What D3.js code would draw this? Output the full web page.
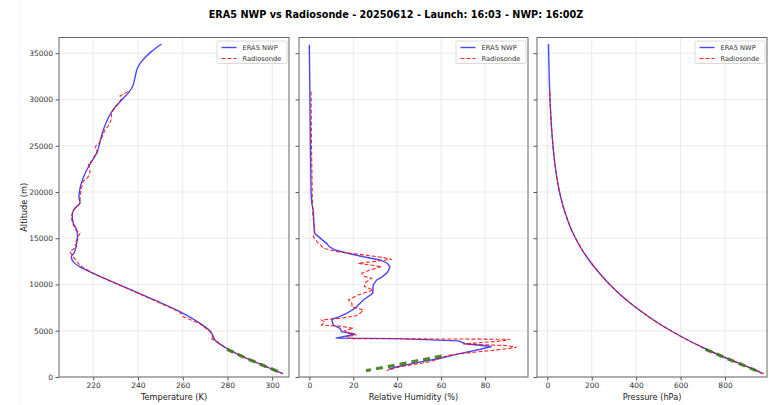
<!DOCTYPE html>
<html>
<head>
<meta charset="utf-8">
<script src="https://cdn.jsdelivr.net/npm/d3@7"></script>
<style>
  body { margin: 0; background: #fff; }
  text { font-family: "DejaVu Sans", sans-serif; }
  .tick text { fill: #333; font-size: 7.5px; }
  .tick line { stroke: #555; }
  .grid line { stroke: #e4e4e4; stroke-width: 0.8; }
</style>
</head>
<body>
<div id="chart"></div>
<script>
// ---- data ----
var titleText = "ERA5 NWP vs Radiosonde - 20250612 - Launch: 16:03 - NWP: 16:00Z";
var altTicks = [0, 5000, 10000, 15000, 20000, 25000, 30000, 35000];
var tempTicks = [220, 240, 260, 280, 300];
var rhTicks = [0, 20, 40, 60, 80];
var presTicks = [0, 200, 400, 600, 800];

// ERA5 temperature
var eraTempAlt = [36000, 35200, 34200, 33400, 32300, 31400, 30800, 29950, 28900, 28000, 26700, 25800, 24200, 23300, 22700, 21500, 20400, 19500, 18800, 18250, 17500, 16600, 15900, 15200, 14100, 13400, 13000, 12450, 11900, 11200, 9050, 7060, 5800, 4900, 4500, 4000, 3100, 2020, 1100, 400];
var eraTemp = [250.5, 246.1, 241.9, 239.8, 238.6, 237.6, 236.0, 232.7, 228.9, 226.7, 224.5, 223.4, 221.5, 219.3, 217.8, 215.5, 214.1, 213.6, 214.1, 211.8, 210.6, 211.1, 212.6, 213.0, 212.3, 211.4, 210.2, 211.1, 214.1, 220.0, 240.5, 258.7, 267.7, 272.5, 273.4, 274.4, 279.6, 288.6, 297.5, 304.6];

// Radiosonde temperature
var sondeTempAlt = [30850, 30600, 30400, 30000, 29200, 28500, 28000, 27500, 27000, 26700, 26000, 25300, 25050, 24700, 24350, 24000, 23300, 23050, 22600, 22200, 21650, 21120, 20500, 19500, 18780, 18500, 18060, 17600, 17160, 16430, 15900, 15540, 15200, 14810, 14450, 14090, 13550, 13000, 12500, 11900, 11200, 9050, 7060, 6520, 5800, 4900, 4200, 4150, 4000, 3100, 2020, 1100, 320];
var sondeTemp = [235.5, 233.5, 232.0, 232.5, 230.0, 228.0, 228.3, 227.5, 226.3, 225.2, 224.0, 222.8, 221.3, 220.8, 222.0, 221.0, 219.3, 217.8, 218.3, 218.6, 217.8, 215.5, 214.8, 214.1, 214.1, 213.0, 211.1, 210.5, 210.3, 211.1, 212.2, 214.1, 213.3, 212.6, 211.8, 212.6, 209.6, 211.1, 212.5, 215.0, 220.0, 240.1, 258.5, 260.2, 267.5, 272.3, 273.6, 272.5, 274.0, 279.6, 288.6, 297.5, 304.8];

// ERA5 relative humidity
var eraRhAlt = [35900, 30000, 25000, 20000, 18800, 18000, 16500, 15900, 15500, 15200, 14800, 14450, 14100, 13730, 13400, 13000, 12650, 12300, 11930, 11500, 11210, 10800, 10490, 9950, 9050, 8330, 7430, 6890, 6500, 6240, 5620, 5260, 4900, 4650, 4430, 4200, 4150, 3900, 3600, 3300, 3000, 2500, 2000, 1500, 1050, 830];
var eraRh = [0.0, 0.3, 0.5, 0.8, 1.1, 1.8, 2.1, 2.2, 2.5, 4.1, 6.0, 7.9, 9.0, 11.7, 17, 24.6, 32.2, 35.5, 36.7, 36.0, 35.2, 33, 30.7, 29.1, 28.9, 24.6, 20.8, 17.0, 13.5, 10.2, 10.9, 14.0, 14.7, 20.8, 17.0, 12, 40, 68, 71, 83, 78, 68, 59, 48, 39, 36];

// Radiosonde relative humidity
var sondeRhAlt = [30850, 28000, 25000, 22000, 19000, 17500, 16000, 15600, 15170, 14600, 14200, 13910, 13550, 13200, 12900, 12720, 12500, 12290, 12100, 11930, 11600, 11210, 10900, 10670, 10200, 9800, 9410, 8870, 8330, 7900, 7600, 7240, 6890, 6600, 6350, 6160, 5900, 5620, 5500, 5260, 5000, 4720, 4540, 4360, 4150, 4080, 3900, 3570, 3400, 3210, 3000, 2700, 2380, 1650, 1110, 680];
var sondeRh = [0.8, 0.9, 1.0, 1.2, 1.4, 1.6, 2.5, 2.3, 1.8, 3.5, 5.5, 6.4, 12.5, 25, 34, 37.5, 30, 22.3, 28, 33, 28, 23.9, 25, 28.4, 25.5, 25.0, 29.1, 22.3, 17.8, 19.5, 19.3, 24.6, 23.1, 21, 14, 5.6, 7, 5.6, 14, 20, 16, 17.8, 21.6, 17, 20, 91.4, 88, 70, 90, 94.4, 88, 76, 64, 55, 41.3, 35.2];

// ERA5 pressure
var eraPresAlt = [36000, 34000, 32000, 30000, 28000, 26000, 24000, 22000, 20000, 19000, 18000, 17000, 16000, 15000, 14000, 13000, 12000, 11000, 10000, 9000, 8000, 7000, 6000, 5000, 4000, 3000, 2000, 1000, 400];
var eraPres = [5.3, 7, 9.2, 12.2, 16.3, 22, 29.5, 40, 55, 65, 77, 91, 107, 127, 150, 177, 208, 243, 281, 324, 373, 428, 488, 556, 632, 716, 810, 912, 968];

// Radiosonde pressure
var sondePresAlt = [30800, 30000, 28000, 26000, 24000, 22000, 20000, 19000, 18000, 17000, 16000, 15000, 14000, 13000, 12000, 11000, 10000, 9000, 8000, 7000, 6000, 5000, 4000, 3000, 2000, 1000, 320];
var sondePres = [11, 12.2, 16.3, 22, 29.5, 40, 55, 65, 77, 91, 107, 127, 150, 177, 208, 243, 281, 324, 373, 428, 488, 556, 632, 716, 810, 912, 975];

// third (green, unlabelled) lowest-layer series
var lowTempAlt = [3000, 2000, 1100, 465];
var lowTemp = [279.8, 288.6, 297.5, 303.9];
var lowRhAlt = [2270, 1500, 685];
var lowRh = [60.3, 44, 25.8];
var lowPresAlt = [2990, 2000, 1000, 465];
var lowPres = [712, 808, 910, 962];

var seriesNames = ["ERA5 NWP", "Radiosonde"];

// ---- layout ----
var W = 769, H = 405;
var plotTop = 37.5, plotBottom = 377;

var svg = d3.select("#chart").append("svg")
  .attr("width", W)
  .attr("height", H);

// faint figure edge line seen on the left
svg.append("line").attr("x1", 20).attr("x2", 20).attr("y1", 0).attr("y2", H)
  .attr("stroke", "#f2f2f2");

svg.append("text")
  .attr("x", 396).attr("y", 17.5)
  .attr("text-anchor", "middle")
  .style("font-size", "9.7px").style("font-weight", "bold")
  .text(titleText);

var y = d3.scaleLinear().domain([0, 36700]).range([plotBottom, plotTop]);

var panels = [
  {x0: 59, x1: 289, dom: [204.7, 307.5], ticks: tempTicks, label: "Temperature (K)",
   era: [eraTempAlt, eraTemp], sonde: [sondeTempAlt, sondeTemp], low: [lowTempAlt, lowTemp]},
  {x0: 299, x1: 528, dom: [-4.7, 99.6], ticks: rhTicks, label: "Relative Humidity (%)",
   era: [eraRhAlt, eraRh], sonde: [sondeRhAlt, sondeRh], low: [lowRhAlt, lowRh]},
  {x0: 537, x1: 767, dom: [-46.4, 989], ticks: presTicks, label: "Pressure (hPa)",
   era: [eraPresAlt, eraPres], sonde: [sondePresAlt, sondePres], low: [lowPresAlt, lowPres]}
];

function zip(alts, vals) {
  return alts.map(function(a, i) { return {alt: a, v: vals[i]}; });
}

panels.forEach(function(p, pi) {
  var x = d3.scaleLinear().domain(p.dom).range([p.x0, p.x1]);
  var g = svg.append("g");

  // grid
  var grid = g.append("g").attr("class", "grid");
  grid.selectAll(".vx").data(p.ticks).enter().append("line")
    .attr("x1", function(d) { return x(d); }).attr("x2", function(d) { return x(d); })
    .attr("y1", plotTop).attr("y2", plotBottom);
  grid.selectAll(".hy").data(altTicks).enter().append("line")
    .attr("x1", p.x0).attr("x2", p.x1)
    .attr("y1", function(d) { return y(d); }).attr("y2", function(d) { return y(d); });

  // clip
  var clipId = "clip" + pi;
  svg.append("clipPath").attr("id", clipId).append("rect")
    .attr("x", p.x0).attr("y", plotTop).attr("width", p.x1 - p.x0).attr("height", plotBottom - plotTop);

  var line = d3.line()
    .x(function(d) { return x(d.v); })
    .y(function(d) { return y(d.alt); })
    .curve(d3.curveMonotoneY);
  var lineLin = d3.line()
    .x(function(d) { return x(d.v); })
    .y(function(d) { return y(d.alt); });

  var lines = g.append("g").attr("clip-path", "url(#" + clipId + ")");
  lines.append("path").datum(zip(p.era[0], p.era[1]))
    .attr("d", pi == 0 || pi == 2 ? line : lineLin)
    .attr("fill", "none").attr("stroke", "blue").attr("stroke-opacity", 0.72)
    .attr("stroke-width", 1.4);
  lines.append("path").datum(zip(p.sonde[0], p.sonde[1]))
    .attr("d", pi == 2 ? line : lineLin)
    .attr("fill", "none").attr("stroke", "red").attr("stroke-opacity", 0.85)
    .attr("stroke-width", 1.1).attr("stroke-dasharray", "4,2");
  lines.append("path").datum(zip(p.low[0], p.low[1]))
    .attr("d", lineLin)
    .attr("fill", "none").attr("stroke", "#3f7a1e").attr("stroke-opacity", 0.9)
    .attr("stroke-width", 3.2).attr("stroke-dasharray", "7,5");

  // axes
  var xAxis = g.append("g")
    .attr("transform", "translate(0," + plotBottom + ")")
    .call(d3.axisBottom(x).tickValues(p.ticks).tickSize(3.5).tickPadding(2.5).tickFormat(d3.format("d")));
  xAxis.select(".domain").remove();

  var yAxis = g.append("g")
    .attr("transform", "translate(" + p.x0 + ",0)")
    .call(d3.axisLeft(y).tickValues(altTicks).tickSize(3.5).tickPadding(2.5).tickFormat(d3.format("d")));
  yAxis.select(".domain").remove();
  if (pi > 0) yAxis.selectAll("text").remove();

  // frame
  g.append("rect")
    .attr("x", p.x0).attr("y", plotTop)
    .attr("width", p.x1 - p.x0).attr("height", plotBottom - plotTop)
    .attr("fill", "none").attr("stroke", "#666").attr("stroke-width", 1);

  // x label
  g.append("text")
    .attr("x", (p.x0 + p.x1) / 2).attr("y", 399.5)
    .attr("text-anchor", "middle")
    .style("font-size", "8.2px").style("fill", "#222")
    .text(p.label);

  // legend
  var lx = p.x1 - 72, ly = plotTop + 3.5;
  var leg = g.append("g").attr("transform", "translate(" + lx + "," + ly + ")");
  leg.append("rect").attr("width", 70).attr("height", 22.5).attr("rx", 1.5)
    .attr("fill", "#fff").attr("fill-opacity", 0.8)
    .attr("stroke", "#d0d0d0").attr("stroke-width", 0.8);
  seriesNames.forEach(function(name, i) {
    var ry = 6.5 + i * 11;
    leg.append("line").attr("x1", 4.5).attr("x2", 19.5).attr("y1", ry).attr("y2", ry)
      .attr("stroke", i == 0 ? "blue" : "red")
      .attr("stroke-opacity", i == 0 ? 0.72 : 0.85)
      .attr("stroke-width", i == 0 ? 1.4 : 1.1)
      .attr("stroke-dasharray", i == 0 ? null : "4,2");
    leg.append("text").attr("x", 25.5).attr("y", ry + 2.4)
      .style("font-size", "6.7px").style("fill", "#333")
      .text(name);
  });
});

svg.append("text")
  .attr("transform", "translate(27," + ((plotTop + plotBottom) / 2) + ") rotate(-90)")
  .attr("text-anchor", "middle")
  .style("font-size", "8.2px").style("fill", "#222")
  .text("Altitude (m)");
</script>
</body>
</html>
